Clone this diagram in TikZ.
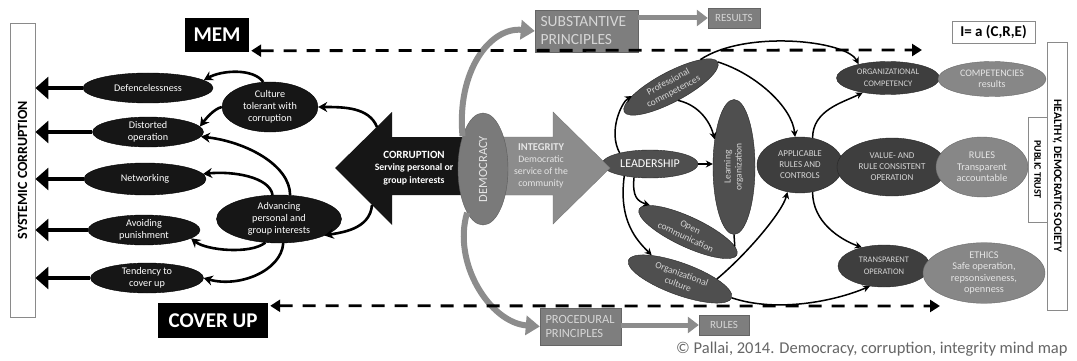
\documentclass[tikz,border=0pt]{standalone}
\usepackage{fontspec}
\setmainfont{Carlito}
\usetikzlibrary{arrows.meta,shapes.geometric}
\definecolor{blk}{HTML}{161616}
\definecolor{dk}{HTML}{3E3E3E}
\definecolor{dkl}{HTML}{262626}
\definecolor{ld}{HTML}{4F4F4F}
\definecolor{md}{HTML}{878787}
\definecolor{mdl}{HTML}{6A6A6A}
\definecolor{lt}{HTML}{D6D6D6}
\definecolor{gb}{HTML}{7E7E7E}
\definecolor{ga}{HTML}{8C8C8C}
\definecolor{frm}{HTML}{8A8A8A}
\definecolor{dem}{HTML}{7A7A7A}
\newcommand{\fs}[2]{\fontsize{#1}{#2}\selectfont}
\begin{document}
\begin{tikzpicture}[x=1pt,y=-1pt,
  lell/.style={ellipse,fill=blk,draw=black,text=white,inner sep=0pt,align=center,font=\fs{10.2}{11.8}},
  dell/.style={ellipse,fill=dk,draw=dkl,text=lt,inner sep=0pt,align=center,font=\fs{9}{11}},
  cell/.style={ellipse,fill=ld,draw=dkl,text=lt,inner sep=0pt,align=center,font=\fs{9.5}{11}},
  mell/.style={ellipse,fill=md,draw=mdl,text=white!90!black,inner sep=0pt,align=center,font=\fs{10.3}{11.5}},
  fbox/.style={draw=frm,line width=0.9pt,inner sep=0pt,fill=white},
  gbox/.style={fill=gb,draw=gb!80!black,inner sep=0pt,text=lt},
  bbox/.style={fill=black,text=white,inner sep=0pt,font=\fs{21}{24}\bfseries},
  bigarr/.style={line width=4.5pt,-{Triangle[length=13pt,width=22pt]}},
  curv/.style={line width=2.6pt,-{Stealth[length=9pt,width=10pt]}},
  thinc/.style={line width=1.5pt,-{Stealth[length=7pt,width=7pt]}},
  thinp/.style={line width=1.5pt},
  garrow/.style={draw=ga,line width=6pt,-{Triangle[length=14pt,width=19pt]}},
  boxarr/.style={draw=ga,line width=5pt,-{Triangle[length=11pt,width=16pt]}},
  dasharr/.style={line width=2.8pt,dash pattern=on 13pt off 10pt,{Triangle[length=10pt,width=12pt]}-{Triangle[length=10pt,width=12pt]}}
]
\fill[white] (0,0) rectangle (1077,361);
\useasboundingbox (0,0) rectangle (1077,361);

% ---------- left part
\node[fbox,minimum width=25pt,minimum height=294pt] (sys) at (22.5,170) {\rotatebox{90}{\fs{14}{16}\bfseries SYSTEMIC CORRUPTION}};
\node[bbox,minimum width=64pt,minimum height=34pt] (mem) at (217,35) {MEM};
\node[bbox,minimum width=110pt,minimum height=35pt] (cov) at (213,320.5) {COVER UP};

\node[lell,minimum width=130pt,minimum height=30pt] (def) at (148,88) {Defencelessness};
\node[lell,minimum width=111pt,minimum height=30pt] (dist) at (148,132) {Distorted\\operation};
\node[lell,minimum width=122pt,minimum height=32pt] (net) at (145,179) {Networking};
\node[lell,minimum width=112pt,minimum height=30pt] (avoid) at (144,230) {Avoiding\\punishment};
\node[lell,minimum width=113pt,minimum height=30pt] (tend) at (147,278) {Tendency to\\cover up};
\node[lell,minimum width=96pt,minimum height=50pt] (cult) at (270,107) {Culture\\tolerant with\\corruption};
\node[lell,minimum width=125pt,minimum height=48pt] (adv) at (279,219) {Advancing\\personal and\\group interests};

\foreach \n in {def,dist,net,avoid,tend}
  \draw[bigarr] (\n.west) -- (\n.west -| sys.east);

% corruption arrow
\fill[blk] (335,168) -- (392,112) -- (392,137) -- (462,137) -- (462,195) -- (392,195) -- (392,225) -- cycle;
\coordinate (corrTop) at (377,127);
\coordinate (corrBot) at (372,205);
\node[text=white,align=center,font=\fs{9.8}{12.5}\bfseries] (corr) at (414,168) {{\fs{11}{12.5}CORRUPTION}\\Serving personal or\\group interests};

\draw[curv] (cult.105) .. controls +(-10,-14) and +(18,-10) .. (def.8);
\draw[curv] (cult.west) .. controls +(-8,2) and +(6,-8) .. (dist.6);
\draw[curv] (adv.65) .. controls +(0,-30) and +(45,5) .. (dist.-5);
\draw[curv] (adv.105) .. controls +(-3,-18) and +(30,-3) .. (net.5);
\draw[curv] (adv.240) .. controls +(-15,12) and +(15,12) .. (avoid.-10);
\draw[curv] (adv.-80) .. controls +(-2,28) and +(35,10) .. (tend.east);
\draw[curv] (corrTop) .. controls +(-8,-20) and +(25,0) .. (cult.east);
\draw[curv] (corrBot) .. controls +(-2,25) and +(15,-3) .. (adv.-20);

% ---------- centre
\node[cell,minimum width=96pt,minimum height=28pt,text=white,font=\fs{12}{13}] (lead) at (650,164) {LEADERSHIP};
\fill[ga,draw=ga!85!black] (500,137) -- (553,137) -- (553,112) -- (610,168) -- (553,224) -- (553,195) -- (500,195) -- cycle;
\node[align=center,text=white!90!black,font=\fs{9.8}{12}] (integ) at (541,166) {{\bfseries\fs{10.5}{12}INTEGRITY}\\Democratic\\service of the\\community};
\node[ellipse,fill=dem,draw=dem!75!black,inner sep=0pt,minimum width=50pt,minimum height=112pt,text=white!90!black] (demo) at (483,169) {\rotatebox{90}{\fs{12.5}{14}DEMOCRACY}};

\node[gbox,minimum width=103pt,minimum height=42pt,text width=92pt,inner xsep=5.5pt,align=left,font=\fs{15.5}{18}] (sub) at (586.5,31) {SUBSTANTIVE\\PRINCIPLES};
\node[gbox,minimum width=81pt,minimum height=37pt,text width=70pt,inner xsep=5.5pt,align=left,font=\fs{12.5}{14}] (proc) at (580.5,326.5) {PROCEDURAL\\PRINCIPLES};
\node[gbox,minimum width=52pt,minimum height=20pt,font=\fs{11}{12}] (res) at (734,18) {RESULTS};
\node[gbox,minimum width=50pt,minimum height=20pt,font=\fs{11}{12}] (rbox) at (724,325) {RULES};

\draw[garrow] (demo.122) .. controls +(-6,-65) and +(-45,-4) .. (sub.west);
\draw[garrow] (demo.250) .. controls +(-15,50) and +(-50,-4) .. (proc.west);
\draw[boxarr] (sub.east |- res.west) -- (res.west);
\draw[boxarr] (proc.east |- rbox.west) -- (rbox.west);

\node[cell,minimum width=42pt,minimum height=135pt] (learn) at (734,167) {\rotatebox{90}{\begin{tabular}{@{}c@{}}Learning\\organization\end{tabular}}};
\node[cell,minimum width=106pt,minimum height=30pt,rotate=28] (prof) at (671,87) {Professional\\commpetences};
\node[cell,minimum width=108pt,minimum height=30pt,rotate=-25] (oc) at (688,232) {Open\\communication};
\node[cell,minimum width=110pt,minimum height=32pt,rotate=-20] (ocul) at (680,279) {Organizational\\culture};

% ---------- right
\node[dell,minimum width=86pt,minimum height=56pt] (app) at (800,165) {APPLICABLE\\RULES AND\\CONTROLS};
\node[dell,minimum width=110pt,minimum height=58pt] (val) at (892,167) {VALUE- AND\\RULE CONSISTENT\\OPERATION};
\node[mell,minimum width=92pt,minimum height=60pt] (rul) at (982,167) {RULES\\Transparent\\accountable};
\node[dell,minimum width=103pt,minimum height=33pt,font=\fs{8.5}{12}] (orgc) at (888,78) {ORGANIZATIONAL\\COMPETENCY};
\node[mell,minimum width=108pt,minimum height=35pt,font=\fs{10}{11}] (comp) at (992,79) {COMPETENCIES\\results};
\node[dell,minimum width=92pt,minimum height=42pt,font=\fs{8.5}{12}] (transp) at (884,266) {TRANSPARENT\\OPERATION};
\node[mell,minimum width=122pt,minimum height=60pt] (eth) at (984,273) {ETHICS\\Safe operation,\\repsonsiveness,\\openness};

\node[fbox,minimum width=83pt,minimum height=22pt,font=\fs{15}{17}\bfseries] (ire) at (993.5,32) {I= a (C,R,E)};
\node[fbox,minimum width=20pt,minimum height=268pt] (hds) at (1057,176) {\rotatebox{-90}{\fs{11.5}{13}\bfseries HEALTHY, DEMOCRATIC SOCIETY}};
\node[fbox,minimum width=19pt,minimum height=105pt] (pt) at (1037.5,169.5) {\rotatebox{-90}{\fs{10}{12}\bfseries PUBLIC TRUST}};

% centre connectors
\draw[thinc] (lead.east) -- (lead.east -| learn.west);
\draw[thinc] (lead.160) .. controls +(-12,-22) and +(-10,6) .. (prof.165);
\draw[thinc] (prof.south) .. controls +(22,5) and +(-4,-16) .. (learn.125);
\draw[thinc] (prof.15) .. controls +(45,-30) and +(-12,-24) .. (orgc.155);
\draw[thinc] (prof.east) .. controls +(38,12) and +(-3,-30) .. (app.100);
\draw[thinc] (app.65) .. controls +(0,-28) and +(-20,10) .. (orgc.210);
\draw[thinc] (app.-65) .. controls +(0,30) and +(-22,-8) .. (transp.140);
\draw[thinc] (lead.-140) .. controls +(-2,20) and +(-12,-4) .. (oc.170);
\draw[thinc] (lead.-155) .. controls +(-6,45) and +(-15,-15) .. (ocul.160);
\draw[thinc] (ocul.20) .. controls +(30,-25) and +(-5,20) .. (app.245);
\draw[thinp] (learn.south) -- (oc.8);
\draw[thinc] (ocul.east) .. controls +(45,15) and +(-35,15) .. (transp.235);

% dashed arrows
\coordinate (memR) at (922,50);
\coordinate (covR) at (940,306);
\draw[dasharr] ([xshift=2pt,yshift=1.5pt]mem.south east) -- (memR);
\draw[dasharr] ([xshift=2pt,yshift=-3pt]cov.north east) -- (covR);

\node[anchor=base west,text=black!60,font=\fs{16.5}{18},inner sep=0pt] (copy) at (676,353) {© Pallai, 2014. Democracy, corruption, integrity mind map};
\end{tikzpicture}
\end{document}
